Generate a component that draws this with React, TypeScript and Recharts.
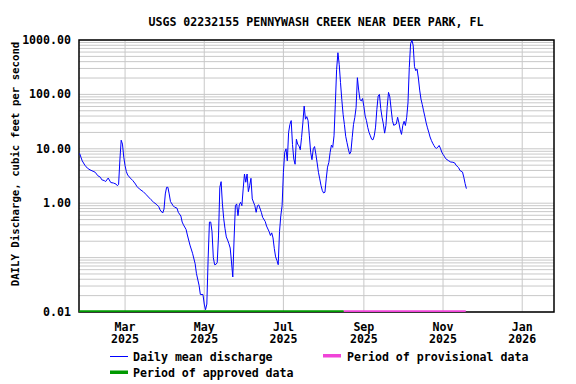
import React from 'react';
import { CartesianGrid, Line, LineChart, ReferenceArea, XAxis, YAxis } from 'recharts';

// Daily mean discharge, cfs. Days are counted from 2025-01-01 (= day 0).
const dischargeDays = [
  24, 25, 26, 28, 30, 32, 35, 36, 38, 40, 41, 43, 44, 46, 48, 50, 52, 53, 54, 55,
  56, 57, 58, 59, 60, 61, 63, 65, 67, 68, 70, 73, 75, 77, 79, 81, 83, 85, 86, 88,
  89, 90, 91, 92, 93, 94, 96, 97, 99, 100, 102, 103, 104, 106, 107, 109, 111, 113, 114, 116,
  117, 119, 120, 121, 122, 123, 124, 125, 126, 127, 128, 129, 130, 131, 132, 133, 134, 135, 136, 137,
  138, 139, 140, 141, 142, 143, 144, 145, 146, 147, 148, 149, 150, 151, 152, 153, 154, 155, 156, 157,
  159, 160, 161, 162, 164, 165, 167, 168, 170, 171, 172, 173, 174, 175, 176, 177, 178, 179, 180, 181,
  182, 183, 184, 185, 186, 187, 188, 189, 190, 191, 192, 193, 194, 195, 196, 197, 198, 199, 200, 201,
  202, 203, 204, 205, 206, 207, 208, 209, 210, 211, 212, 213, 214, 215, 216, 217, 218, 219, 220, 221,
  222, 223, 224, 225, 226, 227, 228, 229, 230, 231, 232, 233, 234, 235, 236, 237, 238, 239, 240, 241,
  242, 243, 244, 245, 246, 247, 248, 249, 250, 251, 252, 253, 254, 255, 256, 257, 258, 259, 260, 261,
  262, 263, 264, 265, 266, 267, 268, 269, 270, 271, 272, 273, 274, 275, 276, 277, 278, 279, 280, 281,
  282, 283, 284, 285, 286, 287, 288, 289, 290, 291, 292, 293, 294, 295, 296, 297, 298, 299, 300, 301,
  302, 303, 304, 305, 306, 308, 310, 311, 313, 314, 316, 317, 319, 320, 321, 322,
];
const dischargeCfs = [
  8.2, 7.0, 6.0, 5.0, 4.4, 4.1, 3.8, 3.7, 3.2, 3.0, 2.7, 2.6, 2.5, 2.9, 2.4, 2.35, 2.25, 2.1, 2.2, 6.2,
  14.4, 12.2, 7.0, 4.9, 3.8, 3.3, 2.9, 2.6, 2.25, 2.05, 1.83, 1.63, 1.46, 1.3, 1.16, 1.04, 0.96, 0.86, 0.75, 0.66,
  0.78, 1.48, 1.96, 1.96, 1.48, 1.07, 0.9, 0.85, 0.81, 0.68, 0.58, 0.45, 0.4, 0.33, 0.26, 0.17, 0.12, 0.077, 0.051, 0.031,
  0.021, 0.021, 0.014, 0.011, 0.014, 0.095, 0.45, 0.45, 0.3, 0.1, 0.074, 0.075, 0.081, 0.25, 1.96, 2.49, 0.97, 0.52, 0.34, 0.24,
  0.21, 0.18, 0.15, 0.083, 0.044, 0.22, 0.9, 0.97, 0.59, 0.93, 1.04, 0.9, 1.83, 3.44, 2.43, 3.44, 1.63, 2.1, 2.87, 1.2,
  0.9, 0.68, 0.9, 0.93, 0.68, 0.55, 0.46, 0.38, 0.3, 0.255, 0.285, 0.23, 0.146, 0.103, 0.089, 0.074, 0.3, 0.59, 0.9, 3.7,
  8.6, 10, 6.0, 20, 28, 33, 12, 6.5, 5.2, 15, 12.2, 11.3, 9.6, 16.2, 30, 61, 35, 39, 33, 17.3,
  8.6, 6.3, 10, 11, 8.0, 5.5, 3.7, 2.8, 2.1, 1.7, 1.54, 1.59, 2.8, 4.6, 5.6, 8.6, 11.7, 10.6, 17.3, 66,
  288, 583, 356, 165, 80, 43, 28, 17, 13, 10, 8.0, 8.8, 16, 28, 37.6, 57, 203, 120, 80, 76,
  84, 60, 40, 33, 24.7, 20, 17.3, 15, 14.6, 17.3, 25, 53, 93, 100, 55, 38, 28.7, 19.4, 26.8, 60,
  109, 90, 54, 33, 27, 27.8, 28.7, 38, 30, 22.3, 18.4, 27, 32, 26.8, 38, 70, 313, 850, 991, 800,
  323, 273, 292, 200, 120, 82, 65, 50, 39, 30, 24.3, 20.2, 16.5, 14.3, 12.7, 11.5, 10.5, 10.2, 10.7, 11.5,
  10.2, 8.7, 7.9, 7.3, 6.6, 6.1, 5.7, 5.7, 5.5, 5.0, 4.5, 4.0, 3.74, 3.0, 2.3, 1.85,
];

// approval status periods (start day, end day)
const approvedPeriod = [23.5, 227.5];
const provisionalPeriod = [227.5, 321.5];

const xDomain = [23.5, 389.5];
const tickDays = [59, 120, 181, 243, 304, 365];
const tickMonths = ['Mar', 'May', 'Jul', 'Sep', 'Nov', 'Jan'];
const tickYears = ['2025', '2025', '2025', '2025', '2025', '2026'];

const yDomain = [0.01, 1000];
const yTicks = [0.01, 1, 10, 100, 1000];
const decades = [0.01, 0.1, 1, 10, 100];

const FONT = '"DejaVu Sans Mono", monospace';
const FS = 11.6;
const BLUE = '#0000ff';
const GREEN = '#009900';
const PINK = '#f044d8';
const GRID = '#c8c8c8';

// log minor grid lines (1..9 × each decade)
const minorLines: number[] = [];
decades.forEach((d) => {
  for (let k = 1; k <= 9; k++) minorLines.push(+(d * k).toPrecision(3));
});
minorLines.push(1000);

const discharge = dischargeDays.map((day, i) => ({ day, cfs: dischargeCfs[i] }));
const approved = approvedPeriod.map((day) => ({ day, cfs: yDomain[0] }));
const provisional = provisionalPeriod.map((day) => ({ day, cfs: yDomain[0] }));

const txt = { fontFamily: FONT, fontSize: FS, fontWeight: 700, fill: '#000' } as const;

function MonthTick({ x, y, index }: any) {
  return (
    <text x={x} y={y} textAnchor="middle" {...txt}>
      <tspan x={x} dy={18.5}>{tickMonths[index]}</tspan>
      <tspan x={x} dy={12.7}>{tickYears[index]}</tspan>
    </text>
  );
}

function FlowTick({ x, y, payload }: any) {
  return (
    <text x={x - 8} y={y} textAnchor="end" dominantBaseline="central" {...txt}>
      {Number(payload.value).toFixed(2)}
    </text>
  );
}

export default function App() {
  return (
    <div style={{ position: 'absolute', left: 0, top: 0, width: 576, height: 384, background: '#fff' }}>
      <LineChart width={576} height={384} margin={{ top: 40, right: 22, bottom: 42, left: 0 }}>
        <CartesianGrid
          stroke={GRID}
          horizontalValues={minorLines}
          verticalValues={tickDays}
        />
        <XAxis
          type="number"
          dataKey="day"
          domain={xDomain}
          ticks={tickDays}
          allowDataOverflow
          axisLine={false}
          tickLine={false}
          tickSize={0}
          tickMargin={0}
          height={30}
          tick={<MonthTick />}
          interval={0}
        />
        <YAxis
          scale="log"
          domain={yDomain}
          ticks={yTicks}
          allowDataOverflow
          axisLine={false}
          tickLine={false}
          tickSize={0}
          tickMargin={0}
          width={79}
          tick={<FlowTick />}
          interval={0}
        />
        <ReferenceArea
          x1={xDomain[0]}
          x2={xDomain[1]}
          y1={yDomain[0]}
          y2={yDomain[1]}
          fill="none"
          stroke="#000"
          strokeWidth={1.5}
        />
        <Line data={discharge} dataKey="cfs" type="linear" stroke={BLUE} strokeWidth={1} dot={false} isAnimationActive={false} />
        <Line data={approved} dataKey="cfs" type="linear" stroke={GREEN} strokeWidth={3.5} dot={false} isAnimationActive={false} />
        <Line data={provisional} dataKey="cfs" type="linear" stroke={PINK} strokeWidth={3.5} dot={false} isAnimationActive={false} />
      </LineChart>
      <svg width={576} height={384} style={{ position: 'absolute', left: 0, top: 0, pointerEvents: 'none' }}>
        <text x={316} y={26} textAnchor="middle" {...txt}>
          USGS 02232155 PENNYWASH CREEK NEAR DEER PARK, FL
        </text>
        <text transform="translate(19,164) rotate(-90)" textAnchor="middle" {...txt} fontSize={10.7}>
          DAILY Discharge, cubic feet per second
        </text>
        <line x1={110} x2={128} y1={356.5} y2={356.5} stroke={BLUE} strokeWidth={1} />
        <text x={133} y={360.5} {...txt}>Daily mean discharge</text>
        <rect x={323} y={354} width={18} height={3.5} fill={PINK} />
        <text x={347} y={360.5} {...txt}>Period of provisional data</text>
        <rect x={110} y={370.5} width={18} height={3.5} fill={GREEN} />
        <text x={133} y={376.5} {...txt}>Period of approved data</text>
      </svg>
    </div>
  );
}
